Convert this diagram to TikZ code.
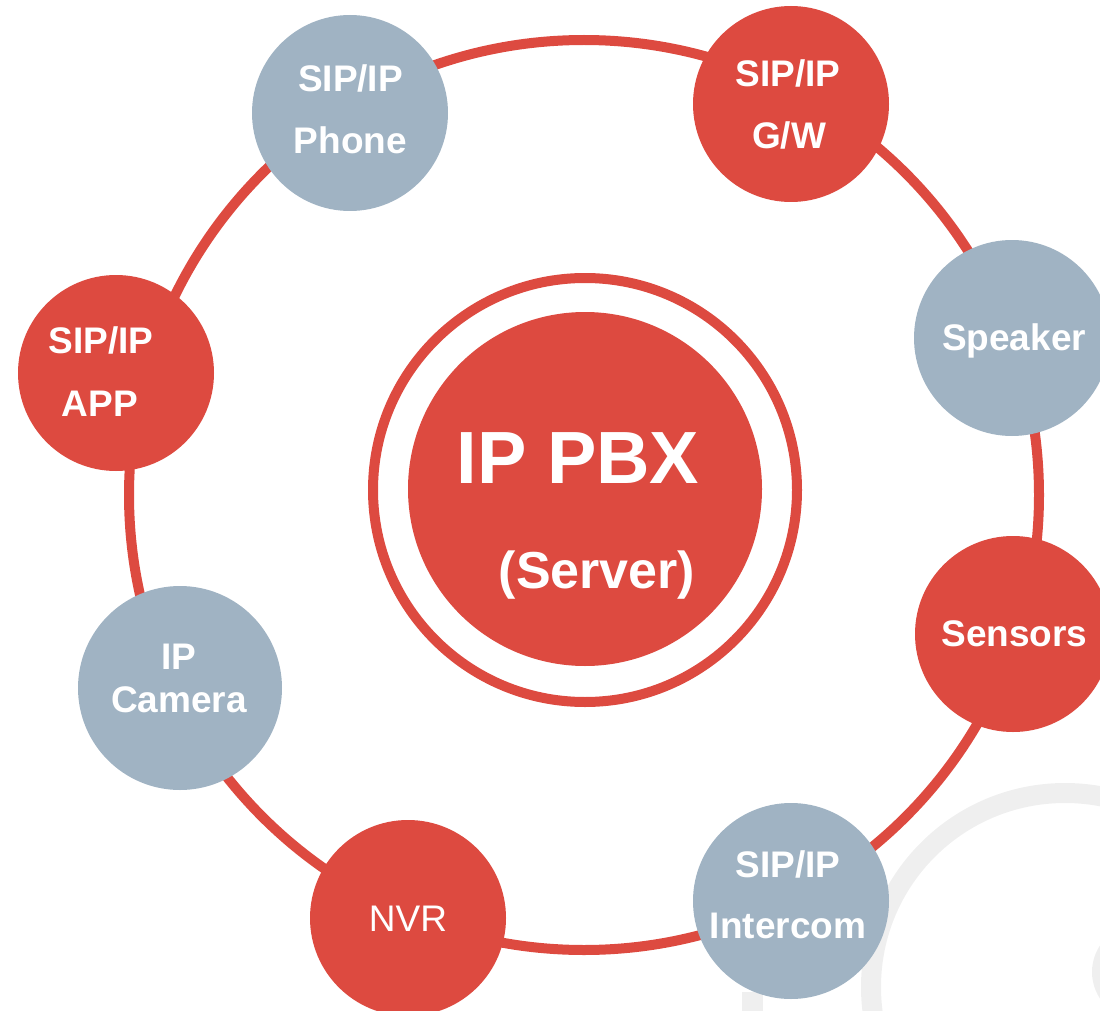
\documentclass[tikz,border=0pt]{standalone}
\usepackage{fontspec}
\setmainfont{Liberation Sans}
\definecolor{pbxred}{HTML}{DD4A40}
\definecolor{devgray}{HTML}{A0B3C3}
\definecolor{wmgray}{HTML}{EFEFEF}
\begin{document}
\begin{tikzpicture}[x=1pt,y=-1pt,
  dev/.style={circle,inner sep=0pt,minimum size=196pt},
  redc/.style={dev,fill=pbxred},
  grayc/.style={dev,fill=devgray},
  lbl/.style={anchor=base,text=white,inner sep=0pt,font=\fontsize{37}{44}\selectfont\bfseries},
  lblreg/.style={anchor=base,text=white,inner sep=0pt,font=\fontsize{37}{44}\selectfont},
  ring/.style={draw=pbxred,line width=10pt}]
\useasboundingbox (0,0) rectangle (1100,1011);
\clip (0,0) rectangle (1100,1011);
% background watermark
\draw[wmgray,line width=20pt] (1065,987) circle[radius=194];
\fill[wmgray] (742,992) rectangle (763,1011);
\draw[wmgray,line width=8pt] (1140,972) circle[radius=44];
% main ring
\draw[ring] (584,495) circle[radius=455];
% central server
\draw[ring] (585,490) circle[radius=212];
\node[circle,fill=pbxred,inner sep=0pt,minimum size=354pt] (pbx) at (585,489) {};
\node[anchor=base,text=white,inner sep=0pt,font=\fontsize{74}{88}\selectfont\bfseries] (pbxT1) at (578,483) {IP PBX};
\node[anchor=base,text=white,inner sep=0pt,font=\fontsize{52}{60}\selectfont\bfseries] (pbxT2) at (597,588) {(Server)};
% devices
\node[grayc] (phone) at (350,113) {};
\node[lbl] (phoneT1) at (350.5,92) {SIP/IP};
\node[lbl] (phoneT2) at (350.5,154) {Phone};
\node[redc] (gw) at (791,104) {};
\node[lbl] (gwT1) at (788,87) {SIP/IP};
\node[lbl] (gwT2) at (789,149) {G/W};
\node[grayc] (speaker) at (1012,338) {};
\node[lbl] (speakerT) at (1014,350) {Speaker};
\node[redc] (sensors) at (1013,634) {};
\node[lbl] (sensorsT) at (1014.5,646) {Sensors};
\node[grayc] (intercom) at (791,901) {};
\node[lbl] (intercomT1) at (788,877) {SIP/IP};
\node[lbl] (intercomT2) at (788,938) {Intercom};
\node[redc] (nvr) at (408,918) {};
\node[lblreg] (nvrT) at (408,931) {NVR};
\node[grayc,minimum size=204pt] (camera) at (180,688) {};
\node[lbl] (cameraT1) at (178.7,669) {IP};
\node[lbl] (cameraT2) at (179,712) {Camera};
\node[redc] (app) at (116,373) {};
\node[lbl] (appT1) at (101,353) {SIP/IP};
\node[lbl] (appT2) at (100,416) {APP};
\end{tikzpicture}
\end{document}
